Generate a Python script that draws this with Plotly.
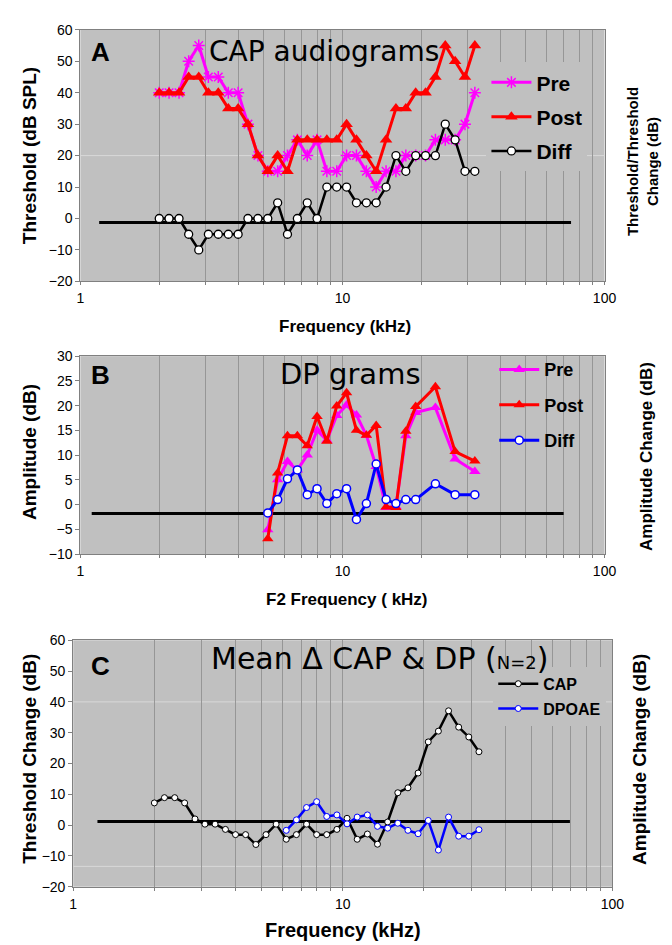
import plotly.graph_objects as go

W, H = 672, 945

# ---------------- data ----------------
cap_freq = [2.0, 2.18, 2.38, 2.59, 2.83, 3.08, 3.36, 3.67, 4.0, 4.36, 4.76, 5.19, 5.66, 6.17,
            6.73, 7.34, 8.0, 8.72, 9.51, 10.37, 11.31, 12.34, 13.45, 14.67, 16.0, 17.45,
            19.03, 20.75, 22.63, 24.68, 26.91, 29.34, 32.0]
cap_pre = [40, 40, 40, 50, 55, 45, 45, 40, 40, 30, 20, 15, 15, 20, 25, 20, 25, 15, 15, 20,
           20, 15, 10, 15, 15, 20, 20, 20, 25, 25, 25, 30, 40]
cap_post = [40, 40, 40, 45, 45, 40, 40, 35, 35, 30, 20, 15, 20, 15, 25, 25, 25, 25, 25, 30,
            25, 20, 15, 25, 35, 35, 40, 40, 45, 55, 50, 45, 55]
cap_diff = [0, 0, 0, -5, -10, -5, -5, -5, -5, 0, 0, 0, 5, -5, 0, 5, 0, 10, 10, 10,
            5, 5, 5, 10, 20, 15, 20, 20, 20, 30, 25, 15, 15]

dp_freq = [5.19, 5.66, 6.17, 6.73, 7.34, 8.0, 8.72, 9.51, 10.37, 11.31, 12.34, 13.45,
           14.67, 16.0, 17.45, 19.03, 22.63, 26.91, 32.0]
dp_pre = [-5.1, 5.0, 8.7, 7.0, 10.0, 15.0, 13.0, 18.0, 20.1, 18.1, 14.0, 7.7,
          -0.6, -0.4, 13.9, 18.6, 19.6, 9.2, 6.7]
dp_post = [-6.9, 6.4, 13.9, 13.9, 11.9, 17.8, 12.8, 19.9, 22.6, 15.0, 14.0, 16.0,
           -0.5, -0.6, 14.8, 19.8, 23.8, 10.7, 8.8]
dp_diff = [-1.7, 1.0, 5.2, 7.0, 2.0, 3.2, 0.2, 2.2, 3.2, -3.0, 0.2, 8.2,
           1.0, 0.2, 1.0, 1.0, 4.2, 2.0, 2.0]

mean_cap = [7.2, 8.9, 8.9, 7.2, 2.0, 0.3, 0.3, -1.4, -3.1, -3.1, -6.3, -3.1, 0.3, -4.6,
            -3.1, 0.3, -3.1, -3.1, -1.4, 2.2, -4.6, -2.9, -6.2, 1.0, 10.5, 12.1, 16.9,
            27.0, 30.5, 37.1, 31.8, 28.6, 23.8]
mean_dp_freq = [6.17, 6.73, 7.34, 8.0, 8.72, 9.51, 10.37, 11.31, 12.34, 13.45, 14.67,
                16.0, 17.45, 19.03, 20.75, 22.63, 24.68, 26.91, 29.34, 32.0]
mean_dp = [-1.7, 1.7, 5.7, 7.6, 2.8, 3.3, 0.4, 2.6, 3.3, -0.4, -1.0, 0.6, -1.7, -2.8,
           1.5, -8.1, 2.6, -3.6, -3.6, -1.5]

base_a_x, base_a_y = [1.18, 74.5], [-1.3, -1.3]
base_b_x, base_b_y = [1.105, 69.8], [-1.8, -1.8]
base_c_x, base_c_y = [1.23, 69.6], [1.2, 1.2]

x_tickvals = [1, 2, 3, 4, 5, 6, 7, 8, 9, 10, 20, 30, 40, 50, 60, 70, 80, 90, 100]
x_ticktext = ["1", "", "", "", "", "", "", "", "", "10", "", "", "", "", "", "", "", "", "100"]

# ---------------- helpers ----------------
def px(x):
    return x / W

def py(y):
    return 1 - y / H

FONT = "Liberation Sans, Arial, sans-serif"
TFONT = "DejaVu Sans, Verdana, sans-serif"
BG = "#C0C0C0"
GRID = "#969696"
MAG = "#FF00FF"
RED = "#FF0000"
BLUE = "#0000FF"

fig = go.Figure()

# ---------------- panel A ----------------
fig.add_trace(go.Scatter(x=base_a_x, y=base_a_y, mode="lines", line=dict(color="black", width=3),
                         showlegend=False, xaxis="x", yaxis="y", hoverinfo="skip"))
fig.add_trace(go.Scatter(x=cap_freq, y=cap_pre, name="Pre", mode="lines+markers",
                         line=dict(color=MAG, width=3), legendgroup="a1",
                         marker=dict(symbol="asterisk-open", size=10, color=MAG, line=dict(color=MAG, width=1.5)),
                         xaxis="x", yaxis="y", legend="legend"))
fig.add_trace(go.Scatter(x=cap_freq, y=cap_post, name="Post", mode="lines+markers",
                         line=dict(color=RED, width=3), legendgroup="a2",
                         marker=dict(symbol="triangle-up", size=11, color=RED),
                         xaxis="x", yaxis="y", legend="legend"))
fig.add_trace(go.Scatter(x=cap_freq, y=cap_diff, name="Diff", mode="lines+markers",
                         line=dict(color="black", width=2.5), legendgroup="a3",
                         marker=dict(symbol="circle", size=8, color="white", line=dict(color="black", width=1.3)),
                         xaxis="x", yaxis="y", legend="legend"))

# ---------------- panel B ----------------
fig.add_trace(go.Scatter(x=base_b_x, y=base_b_y, mode="lines", line=dict(color="black", width=3),
                         showlegend=False, xaxis="x2", yaxis="y2", hoverinfo="skip"))
fig.add_trace(go.Scatter(x=dp_freq, y=dp_pre, name="Pre", mode="lines+markers",
                         line=dict(color=MAG, width=3), legendgroup="b1",
                         marker=dict(symbol="triangle-up", size=10, color=MAG),
                         xaxis="x2", yaxis="y2", legend="legend2"))
fig.add_trace(go.Scatter(x=dp_freq, y=dp_post, name="Post", mode="lines+markers",
                         line=dict(color=RED, width=3), legendgroup="b2",
                         marker=dict(symbol="triangle-up", size=10, color=RED),
                         xaxis="x2", yaxis="y2", legend="legend2"))
fig.add_trace(go.Scatter(x=dp_freq, y=dp_diff, name="Diff", mode="lines+markers",
                         line=dict(color=BLUE, width=3), legendgroup="b3",
                         marker=dict(symbol="circle", size=8, color="white", line=dict(color=BLUE, width=1.5)),
                         xaxis="x2", yaxis="y2", legend="legend2"))

# ---------------- panel C ----------------
fig.add_trace(go.Scatter(x=base_c_x, y=base_c_y, mode="lines", line=dict(color="black", width=3),
                         showlegend=False, xaxis="x3", yaxis="y3", hoverinfo="skip"))
fig.add_trace(go.Scatter(x=cap_freq, y=mean_cap, name="CAP", mode="lines+markers",
                         line=dict(color="black", width=2.5), legendgroup="c1",
                         marker=dict(symbol="circle", size=6, color="white", line=dict(color="black", width=1)),
                         xaxis="x3", yaxis="y3", legend="legend3"))
fig.add_trace(go.Scatter(x=mean_dp_freq, y=mean_dp, name="DPOAE", mode="lines+markers",
                         line=dict(color=BLUE, width=2.5), legendgroup="c2",
                         marker=dict(symbol="circle", size=6, color="white", line=dict(color=BLUE, width=1)),
                         xaxis="x3", yaxis="y3", legend="legend3"))

# ---------------- axes ----------------
def xax(domain, anchor, standoff):
    return dict(type="log", range=[0, 2], domain=domain, anchor=anchor,
                tickvals=x_tickvals, ticktext=x_ticktext,
                showgrid=True, gridcolor=GRID, gridwidth=1,
                showline=True, linecolor="#808080", linewidth=1, mirror=True,
                ticks="outside", ticklen=3, tickcolor="#808080",
                ticklabelstandoff=standoff,
                tickfont=dict(family=FONT, size=14, color="black"), zeroline=False)

def yax(domain, anchor, rng, dtick):
    return dict(range=rng, domain=domain, anchor=anchor, dtick=dtick, tick0=0,
                showgrid=False, zeroline=False,
                showline=True, linecolor="#808080", linewidth=1, mirror=True,
                ticks="outside", ticklen=4, tickcolor="#808080",
                tickfont=dict(family=FONT, size=14, color="black"))

xa_dom = [px(70), px(607)]
xc_dom = [px(62.7), px(615)]
ya_dom = [py(270), py(14)]
yb_dom = [py(547.3), py(346)]
yc_dom = [py(885.7), py(635)]

fig.update_layout(
    xaxis=xax(xa_dom, "y", 1),
    yaxis=yax(ya_dom, "x", [-20, 60], 10),
    xaxis2=xax(xa_dom, "y2", 1),
    yaxis2=yax(yb_dom, "x2", [-10, 30], 5),
    xaxis3=xax(xc_dom, "y3", 1),
    yaxis3=yax(yc_dom, "x3", [-20, 60], 10),
)

# faint horizontal lines
shapes = []
for xr, yr, val in [("x", "y", 20), ("x3", "y3", 40), ("x3", "y3", -13.4)]:
    shapes.append(dict(type="line", xref=xr + " domain", yref=yr, x0=0, x1=1, y0=val, y1=val,
                       line=dict(color="#d8d8d8", width=1), layer="below"))
# legend backdrop in panel B (hides gridlines behind legend, like the original)
shapes.append(dict(type="rect", xref="paper", yref="paper",
                   x0=px(490), x1=px(606.5), y0=py(455), y1=py(346.5),
                   fillcolor=BG, line=dict(width=0), layer="between"))

# ---------------- annotations ----------------
ann = []

def text(x, y, t, size, bold=False, angle=0, xanchor="center", yanchor="middle", family=FONT):
    ann.append(dict(x=px(x), y=py(y), xref="paper", yref="paper", text=("<b>%s</b>" % t) if bold else t,
                    showarrow=False, textangle=angle, xanchor=xanchor, yanchor=yanchor,
                    font=dict(family=family, size=size, color="black")))

# panel labels and titles
text(79, 37, "A", 26, bold=True, xanchor="left")
text(320, 36, "CAP audiograms", 28, family=TFONT)
text(79, 365, "B", 26, bold=True, xanchor="left")
text(347, 364, "DP grams", 29, family=TFONT)
text(79, 661, "C", 26, bold=True, xanchor="left")
text(377, 654, "Mean Δ CAP &amp; DP (<span style='font-size:18px'>N=2</span>)", 30, family=TFONT)

# axis titles
text(18, 142, "Threshold (dB SPL)", 19, bold=True, angle=-90)
text(341, 316, "Frequency (kHz)", 17, bold=True)
text(646, 148, "Threshold/Threshold<br>Change (dB)", 15, bold=True, angle=-90)

text(18, 444, "Amplitude (dB)", 19, bold=True, angle=-90)
text(343, 594, "F2 Frequency ( kHz)", 17, bold=True)
text(650, 448, "Amplitude Change (dB)", 17, bold=True, angle=-90)

text(18, 756, "Threshold Change (dB)", 19, bold=True, angle=-90)
text(339, 930, "Frequency (kHz)", 20, bold=True)
text(643, 756, "Amplitude Change (dB)", 19, bold=True, angle=-90)

fig.update_layout(
    width=W, height=H,
    margin=dict(l=0, r=0, t=0, b=0),
    paper_bgcolor="white",
    plot_bgcolor=BG,
    shapes=shapes,
    annotations=ann,
    legend=dict(x=px(486), y=py(47), xanchor="left", yanchor="top", bgcolor=BG,
                font=dict(family=FONT, size=21, color="black", weight="bold"),
                itemwidth=40, tracegroupgap=4, traceorder="grouped"),
    legend2=dict(x=px(494), y=py(341), xanchor="left", yanchor="top", bgcolor="rgba(0,0,0,0)",
                 font=dict(family=FONT, size=18, color="black", weight="bold"),
                 itemwidth=40, tracegroupgap=9, traceorder="grouped"),
    legend3=dict(x=px(493), y=py(662), xanchor="left", yanchor="top", bgcolor=BG,
                 font=dict(family=FONT, size=16, color="black", weight="bold"),
                 itemwidth=40, tracegroupgap=1, traceorder="grouped"),
    showlegend=True,
)

fig.write_html("out.html")
